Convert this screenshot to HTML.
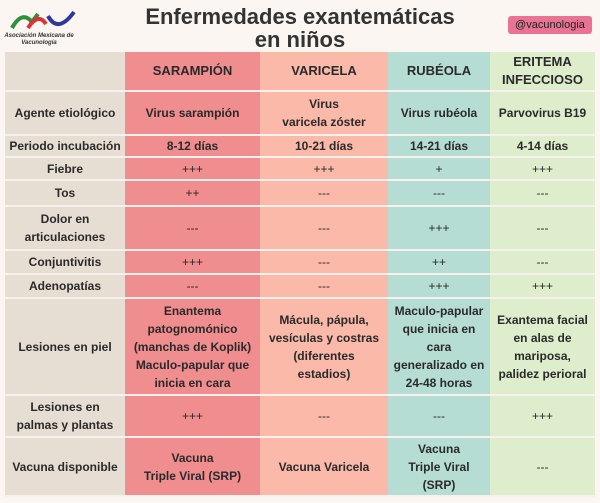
<!DOCTYPE html>
<html><head><meta charset="utf-8"><style>
*{margin:0;padding:0;box-sizing:border-box}
body{width:600px;height:503px;background:#fbf6f1;font-family:"Liberation Sans","DejaVu Sans",sans-serif;position:relative;overflow:hidden;color:#2a2a2a}
.c{position:absolute;display:flex;align-items:center;justify-content:center;text-align:center;font-size:12px;line-height:18px;border-bottom:2px solid #f6f1ec}
.title{position:absolute;left:100px;top:5px;width:400px;text-align:center;font-size:22px;font-weight:bold;line-height:23px;color:#333;white-space:nowrap}
</style></head><body>
<svg style="position:absolute;left:8px;top:8px" width="70" height="22"><path d="M4 20 Q14 2 24 14 L30 6" stroke="#2f8f3a" stroke-width="4" fill="none"/><path d="M20 20 Q30 4 38 16" stroke="#d33" stroke-width="4" fill="none"/><path d="M40 8 Q50 26 66 4" stroke="#2e3a9a" stroke-width="4" fill="none"/></svg>
<div style="position:absolute;left:4px;top:33px;width:70px;font-size:6px;font-style:italic;font-weight:bold;text-align:center;line-height:7px;color:#333">Asociación Mexicana de Vacunología</div>
<div class="title">Enfermedades exantemáticas<br>en niños</div>
<div style="position:absolute;left:508px;top:16px;width:84px;height:18px;background:#e87393;border-radius:3px;font-size:11px;line-height:18px;text-align:center;color:#222">@vacunologia</div>
<div id="t"></div>
<script>
var xs=[5,125,260,388,490,595];
var ys=[52,92,136,158,181,207,251,275,299,396,438,497];
var cols=["#e6ddd3","#ef8d8f","#fbb9aa","#b6ddd4","#deedcc"];
var rows=[
["","SARAMPIÓN","VARICELA","RUBÉOLA","ERITEMA<br>INFECCIOSO"],
["Agente etiológico","Virus sarampión","Virus<br>varicela zóster","Virus rubéola","Parvovirus B19"],
["Periodo incubación","8-12 días","10-21 días","14-21 días","4-14 días"],
["Fiebre","+++","+++","+","+++"],
["Tos","++","---","---","---"],
["Dolor en<br>articulaciones","---","---","+++","---"],
["Conjuntivitis","+++","---","++","---"],
["Adenopatías","---","---","+++","+++"],
["Lesiones en piel","Enantema<br>patognomónico<br>(manchas de Koplik)<br>Maculo-papular que<br>inicia en cara","Mácula, pápula,<br>vesículas y costras<br>(diferentes<br>estadios)","Maculo-papular<br>que inicia en<br>cara<br>generalizado en<br>24-48 horas","Exantema facial<br>en alas de<br>mariposa,<br>palidez perioral"],
["Lesiones en<br>palmas y plantas","+++","---","---","+++"],
["Vacuna disponible","Vacuna<br>Triple Viral (SRP)","Vacuna Varicela","Vacuna<br>Triple Viral<br>(SRP)","---"]];
var h="";
for(var r=0;r<rows.length;r++)for(var c=0;c<5;c++){
var sym=/^[+\-]+$/.test(rows[r][c]);
var fw=sym?"normal":"bold";
var fs=(r==0)?"13px":"12px";
h+='<div class="c" style="left:'+xs[c]+'px;top:'+ys[r]+'px;width:'+(xs[c+1]-xs[c])+'px;height:'+(ys[r+1]-ys[r])+'px;background:'+cols[c]+';font-weight:'+fw+';font-size:'+fs+'">'+rows[r][c]+'</div>';}
document.getElementById("t").innerHTML=h;
</script>
</body></html>
